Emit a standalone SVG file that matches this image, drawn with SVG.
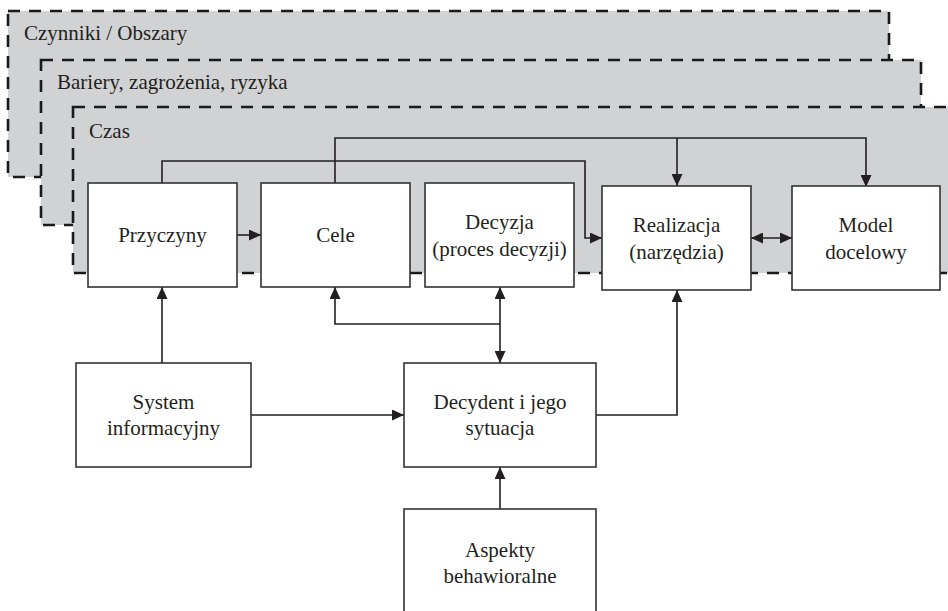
<svg xmlns="http://www.w3.org/2000/svg" width="948" height="611" viewBox="0 0 948 611">
  <style>
    .layer { fill: #d1d2d4; stroke: #1a1a1a; stroke-width: 2.6; stroke-dasharray: 12 9; }
    .box { fill: #ffffff; stroke: #333333; stroke-width: 1.6; }
    .lbl { font-family: 'Liberation Serif', 'DejaVu Serif', serif; font-size: 21px; fill: #231f20; }
    .mid { text-anchor: middle; }
    .wire { fill: none; stroke: #231f20; stroke-width: 1.6; }
    .one { marker-end: url(#arrow); }
    .two { marker-start: url(#arrow); marker-end: url(#arrow); }
  </style>
  <defs>
    <marker id="arrow" viewBox="0 0 12 11" refX="12" refY="5.5" markerWidth="12" markerHeight="11" markerUnits="userSpaceOnUse" orient="auto-start-reverse">
      <path d="M0,0 L12,5.5 L0,11 Z" fill="#231f20"/>
    </marker>
  </defs>

  <!-- nested context layers -->
  <g id="layer-czynniki">
    <rect class="layer" x="8" y="11" width="881" height="166"/>
    <text class="lbl" x="24" y="40">Czynniki / Obszary</text>
  </g>
  <g id="layer-bariery">
    <rect class="layer" x="41" y="60" width="880" height="165"/>
    <text class="lbl" x="57" y="89">Bariery, zagrożenia, ryzyka</text>
  </g>
  <g id="layer-czas">
    <rect class="layer" x="73" y="107" width="900" height="166"/>
    <text class="lbl" x="89" y="138">Czas</text>
  </g>

  <!-- connectors -->
  <g id="connectors">
    <path class="wire one" d="M162,183 V161 H585 V238 H602"/>
    <path class="wire one" d="M335,183 V138 H866 V187"/>
    <path class="wire one" d="M677,138 V186"/>
    <path class="wire one" d="M237,235 H261"/>
    <path class="wire two" d="M751,238 H792"/>
    <path class="wire one" d="M162,363 V287"/>
    <path class="wire two" d="M500,287 V363"/>
    <path class="wire one" d="M500,324 H335 V287"/>
    <path class="wire one" d="M251,415 H404"/>
    <path class="wire one" d="M596,415 H677 V290"/>
    <path class="wire one" d="M500,509 V467"/>
  </g>

  <!-- nodes -->
  <g id="przyczyny">
    <rect class="box" x="88" y="183" width="149" height="104"/>
    <text class="lbl mid" x="162.5" y="242">Przyczyny</text>
  </g>
  <g id="cele">
    <rect class="box" x="261" y="183" width="149" height="104"/>
    <text class="lbl mid" x="335.5" y="242">Cele</text>
  </g>
  <g id="decyzja">
    <rect class="box" x="425" y="183" width="149" height="104"/>
    <text class="lbl mid" x="499.5" y="229">Decyzja</text>
    <text class="lbl mid" x="499.5" y="256">(proces decyzji)</text>
  </g>
  <g id="realizacja">
    <rect class="box" x="602" y="186" width="149" height="104"/>
    <text class="lbl mid" x="676.5" y="232">Realizacja</text>
    <text class="lbl mid" x="676.5" y="259">(narzędzia)</text>
  </g>
  <g id="model">
    <rect class="box" x="792" y="186" width="148" height="104"/>
    <text class="lbl mid" x="866" y="232">Model</text>
    <text class="lbl mid" x="866" y="259">docelowy</text>
  </g>
  <g id="system">
    <rect class="box" x="76" y="363" width="175" height="104"/>
    <text class="lbl mid" x="163.5" y="409">System</text>
    <text class="lbl mid" x="163.5" y="435">informacyjny</text>
  </g>
  <g id="decydent">
    <rect class="box" x="404" y="363" width="192" height="104"/>
    <text class="lbl mid" x="500" y="409">Decydent i jego</text>
    <text class="lbl mid" x="500" y="435">sytuacja</text>
  </g>
  <g id="aspekty">
    <rect class="box" x="404" y="509" width="192" height="130"/>
    <text class="lbl mid" x="500" y="557">Aspekty</text>
    <text class="lbl mid" x="500" y="583">behawioralne</text>
  </g>
</svg>
